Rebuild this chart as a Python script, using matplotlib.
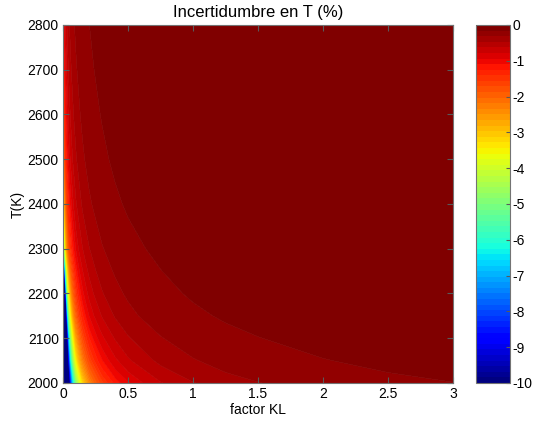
import matplotlib
matplotlib.use('Agg')
import matplotlib.pyplot as plt
import matplotlib.colors as mcolors
import matplotlib.cm as cm
import numpy as np

plt.rcParams['font.family'] = ['Liberation Sans', 'DejaVu Sans']
plt.rcParams['font.size'] = 10
plt.rcParams['axes.unicode_minus'] = False

# factor KL (columns) and temperature in K (rows)
kl = [0.0, 0.02, 0.05, 0.1, 0.15, 0.2, 0.3, 0.4, 0.5, 0.75, 1.0, 1.25, 1.5, 2.0, 2.5, 3.0]
temp = [2000, 2050, 2100, 2150, 2200, 2250, 2300, 2400, 2500, 2600, 2700, 2800]

# uncertainty in T (%), one list per temperature
t_2000 = [-50, -31.7, -10.58, -5.01, -3.28, -2.44, -1.614, -1.206, -0.962,
          -0.639, -0.479, -0.382, -0.319, -0.239, -0.191, -0.159]
t_2050 = [-50, -32.3, -8.06, -3.58, -2.30, -1.70, -1.112, -0.827, -0.658,
          -0.436, -0.326, -0.260, -0.2165, -0.162, -0.1296, -0.1079]
t_2100 = [-50, -29.8, -6.27, -2.71, -1.725, -1.266, -0.827, -0.614, -0.488,
          -0.323, -0.241, -0.192, -0.160, -0.120, -0.0957, -0.0797]
t_2150 = [-50, -17.9, -4.46, -1.984, -1.276, -0.940, -0.616, -0.458, -0.364,
          -0.241, -0.180, -0.144, -0.120, -0.0897, -0.0717, -0.0597]
t_2200 = [-50, -10.2, -3.25, -1.520, -0.992, -0.736, -0.486, -0.363, -0.289,
          -0.192, -0.1437, -0.1148, -0.0956, -0.0716, -0.0573, -0.0477]
t_2250 = [-50, -5.95, -2.38, -1.190, -0.794, -0.595, -0.397, -0.298, -0.238,
          -0.159, -0.119, -0.0952, -0.0794, -0.0595, -0.0476, -0.0397]
t_2300 = [-10.1, -3.37, -1.684, -0.918, -0.631, -0.481, -0.326, -0.246, -0.198,
          -0.1329, -0.1000, -0.0802, -0.0669, -0.0503, -0.0402, -0.0336]
t_2400 = [-5.25, -2.16, -1.149, -0.645, -0.448, -0.344, -0.234, -0.1776, -0.1431,
          -0.0962, -0.0725, -0.0582, -0.0486, -0.0365, -0.0292, -0.0244]
t_2500 = [-3.06, -1.491, -0.843, -0.489, -0.344, -0.265, -0.1823, -0.1388, -0.1120,
          -0.0756, -0.0571, -0.0458, -0.0383, -0.0288, -0.0231, -0.0193]
t_2600 = [-2.29, -1.173, -0.677, -0.397, -0.281, -0.2175, -0.1498, -0.1142, -0.0923,
          -0.0624, -0.0471, -0.0378, -0.0316, -0.0238, -0.0191, -0.0159]
t_2700 = [-1.715, -0.935, -0.556, -0.332, -0.2365, -0.1837, -0.1270, -0.0971, -0.0785,
          -0.0532, -0.0402, -0.0323, -0.0270, -0.0203, -0.0163, -0.0136]
t_2800 = [-1.332, -0.765, -0.467, -0.283, -0.2032, -0.1585, -0.1100, -0.0842, -0.0683,
          -0.0463, -0.0350, -0.0282, -0.0236, -0.0177, -0.0142, -0.0119]

cbar_ticks = [0, -1, -2, -3, -4, -5, -6, -7, -8, -9, -10]

z = np.array([t_2000, t_2050, t_2100, t_2150, t_2200, t_2250, t_2300,
              t_2400, t_2500, t_2600, t_2700, t_2800])

jet64 = plt.get_cmap('jet', 64)
v_levels = np.linspace(-10, 0, 65)

# contour the reciprocal so the 1/KL shape stays smooth between grid nodes,
# the bands still sit on the same 64 steps of the colour scale
w = -1.0 / z
w_levels = [0.0] + [-1.0 / v for v in v_levels[1:64]] + [1e9]
band_colors = [jet64(i) for i in range(64)]

fig = plt.figure(figsize=(5.33, 4.23), dpi=100)
ax = fig.add_axes([0.1182, 0.0946, 0.7317, 0.8464])
cax = fig.add_axes([0.893, 0.0946, 0.0638, 0.8464])

cs = ax.contourf(kl, temp, w, levels=w_levels, colors=band_colors, antialiased=True)
cs.set_edgecolor('face')
cs.set_linewidth(0.4)

ax.set_xlim(0, 3)
ax.set_ylim(2000, 2800)
ax.set_xticks([0, 0.5, 1, 1.5, 2, 2.5, 3])
ax.set_xticklabels(['0', '0.5', '1', '1.5', '2', '2.5', '3'])
ax.set_yticks(range(2000, 2801, 100))
ax.tick_params(direction='in', top=True, right=True, length=4, color='0.35', pad=3)
for s in ax.spines.values():
    s.set_color('0.45')
    s.set_zorder(5)
ax.set_xlabel('factor KL', labelpad=1)
ax.set_ylabel('T(K)', labelpad=2)
ax.set_title('Incertidumbre en T (%)', pad=6)

sm = cm.ScalarMappable(norm=mcolors.Normalize(-10, 0), cmap=jet64)
cb = fig.colorbar(sm, cax=cax, ticks=cbar_ticks)
cb.ax.set_yticklabels([str(t) for t in cbar_ticks])
cb.ax.tick_params(direction='in', length=3, color='0.35', pad=2)
cb.outline.set_edgecolor('0.45')

fig.savefig('out.png', dpi=100)
